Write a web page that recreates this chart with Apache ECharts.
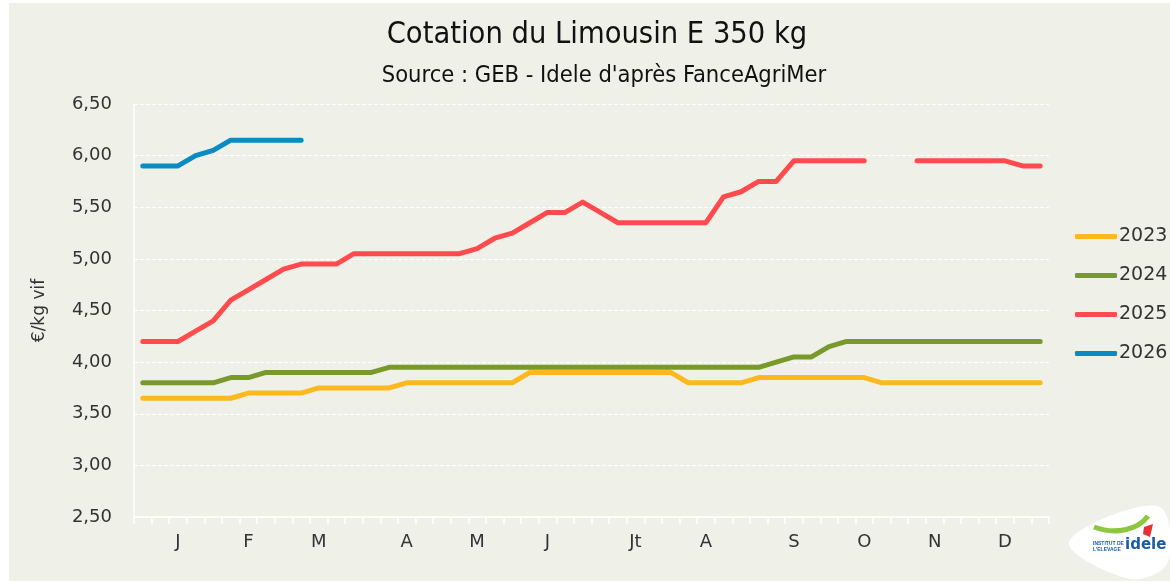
<!DOCTYPE html>
<html>
<head>
<meta charset="utf-8">
<script src="https://cdn.jsdelivr.net/npm/echarts@6/dist/echarts.min.js"></script>
<style>
    html, body { margin: 0; padding: 0; background: #ffffff; }
    #chart { width: 1170px; height: 583px; }
</style>
</head>
<body>
<div id="chart"></div>
<script>
// semaines de l'année, lettre du mois sur la semaine centrale
const weekLabels = [
    '', '', 'J', '', '', '', 'F', '', '', '', 'M', '', '', '',
    '', 'A', '', '', '', 'M', '', '', '', 'J', '', '', '', '',
    'Jt', '', '', '', 'A', '', '', '', '', 'S', '', '', '', 'O',
    '', '', '', 'N', '', '', '', 'D', '', ''
];

const years = ['2023', '2024', '2025', '2026'];

const y2023 = [
    3.65, 3.65, 3.65, 3.65, 3.65, 3.65, 3.70, 3.70, 3.70, 3.70,
    3.75, 3.75, 3.75, 3.75, 3.75, 3.80, 3.80, 3.80, 3.80, 3.80,
    3.80, 3.80, 3.90, 3.90, 3.90, 3.90, 3.90, 3.90, 3.90, 3.90,
    3.90, 3.80, 3.80, 3.80, 3.80, 3.85, 3.85, 3.85, 3.85, 3.85,
    3.85, 3.85, 3.80, 3.80, 3.80, 3.80, 3.80, 3.80, 3.80, 3.80,
    3.80, 3.80
];
const y2024 = [
    3.80, 3.80, 3.80, 3.80, 3.80, 3.85, 3.85, 3.90, 3.90, 3.90,
    3.90, 3.90, 3.90, 3.90, 3.95, 3.95, 3.95, 3.95, 3.95, 3.95,
    3.95, 3.95, 3.95, 3.95, 3.95, 3.95, 3.95, 3.95, 3.95, 3.95,
    3.95, 3.95, 3.95, 3.95, 3.95, 3.95, 4.00, 4.05, 4.05, 4.15,
    4.20, 4.20, 4.20, 4.20, 4.20, 4.20, 4.20, 4.20, 4.20, 4.20,
    4.20, 4.20
];
const y2025 = [
    4.20, 4.20, 4.20, 4.30, 4.40, 4.60, 4.70, 4.80, 4.90, 4.95,
    4.95, 4.95, 5.05, 5.05, 5.05, 5.05, 5.05, 5.05, 5.05, 5.10,
    5.20, 5.25, 5.35, 5.45, 5.45, 5.55, 5.45, 5.35, 5.35, 5.35,
    5.35, 5.35, 5.35, 5.60, 5.65, 5.75, 5.75, 5.95, 5.95, 5.95,
    5.95, 5.95, null, null, 5.95, 5.95, 5.95, 5.95, 5.95, 5.95,
    5.90, 5.90
];
const y2026 = [5.90, 5.90, 5.90, 6.00, 6.05, 6.15, 6.15, 6.15, 6.15, 6.15];

const colors = ['#FDB820', '#7A992B', '#FF4B4E', '#0A8BC3'];

const chart = echarts.init(document.getElementById('chart'));

function makeSeries(name, data, i) {
    return {
        name: name,
        type: 'line',
        data: data,
        showSymbol: false,
        symbol: 'none',
        connectNulls: false,
        lineStyle: { width: 5, color: colors[i], cap: 'round', join: 'round' },
        itemStyle: { color: colors[i] },
        emphasis: { disabled: true },
        z: 2 + i
    };
}

chart.setOption({
    backgroundColor: '#ffffff',
    animation: false,
    textStyle: { fontFamily: 'DejaVu Sans' },
    title: [{
        text: 'Cotation du Limousin E 350 kg',
        left: 592,
        textAlign: 'center',
        top: 15,
        textStyle: {
            fontFamily: 'Liberation Sans Narrow, DejaVu Sans Condensed, sans-serif',
            fontSize: 30.5, fontWeight: 'normal', color: '#111'
        }
    }, {
        text: "Source : GEB - Idele d'après FanceAgriMer",
        left: 599,
        textAlign: 'center',
        top: 59,
        textStyle: {
            fontFamily: 'Liberation Sans Narrow, DejaVu Sans Condensed, sans-serif',
            fontSize: 23.5, fontWeight: 'normal', color: '#111'
        }
    }],
    legend: {
        orient: 'vertical',
        left: 1070,
        top: 222,
        itemWidth: 42,
        itemHeight: 5,
        itemGap: 20,
        icon: 'roundRect',
        selectedMode: false,
        data: years,
        textStyle: { fontFamily: 'DejaVu Sans', fontSize: 19, color: '#333', padding: [0, 0, 0, -3] }
    },
    grid: {
        left: 134,
        right: 121,
        top: 104,
        bottom: 66,
        containLabel: false
    },
    xAxis: {
        type: 'category',
        data: weekLabels,
        boundaryGap: true,
        axisLine: { lineStyle: { color: '#ffffff', width: 1.5 } },
        axisTick: { show: true, interval: 0, length: 7, lineStyle: { color: '#ffffff', width: 1.5 } },
        axisLabel: { interval: 0, margin: 16, fontSize: 18, color: '#333', fontFamily: 'DejaVu Sans' },
        splitLine: { show: false }
    },
    yAxis: {
        type: 'value',
        min: 2.5,
        max: 6.5,
        interval: 0.5,
        name: '€/kg vif',
        nameLocation: 'middle',
        nameGap: 86,
        nameTextStyle: { fontSize: 17, color: '#333', fontFamily: 'DejaVu Sans' },
        axisLine: { show: true, lineStyle: { color: '#ffffff', width: 1.5 } },
        axisTick: { show: false },
        axisLabel: {
            margin: 22,
            fontSize: 18,
            color: '#333',
            fontFamily: 'DejaVu Sans',
            formatter: function (value) {
                return value.toFixed(2).replace('.', ',');
            }
        },
        splitLine: { lineStyle: { color: '#ffffff', type: 'dashed', width: 1 } }
    },
    graphic: [{
        type: 'rect',
        z: -10,
        silent: true,
        shape: { x: 9, y: 3, width: 1161, height: 578 },
        style: { fill: '#EFF0E8' }
    }, {
        // logo idele
        type: 'group',
        silent: true,
        children: [{
            type: 'polygon',
            shape: { points: [[1069, 542], [1158, 506], [1168, 562], [1130, 579]], smooth: 0.35 },
            style: { fill: '#ffffff' }
        }, {
            type: 'bezierCurve',
            shape: { x1: 1094, y1: 527, x2: 1148, y2: 516, cpx1: 1115, cpy1: 535, cpx2: 1138, cpy2: 530 },
            style: { stroke: '#8DC63F', lineWidth: 5, fill: null }
        }, {
            type: 'polygon',
            shape: { points: [[1144, 527], [1153, 524], [1150, 537], [1143, 534]] },
            style: { fill: '#E63036' }
        }, {
            type: 'text',
            style: { x: 1093, y: 541, text: 'INSTITUT DE\nL\'ELEVAGE', fontSize: 5, fontWeight: 'bold', fill: '#1D5BA6', lineHeight: 6 }
        }, {
            type: 'text',
            style: { x: 1125, y: 538, text: 'idele', fontSize: 15, fontWeight: 'bold', fill: '#1D5BA6', fontFamily: 'DejaVu Sans' }
        }]
    }],
    series: [
        makeSeries('2023', y2023, 0),
        makeSeries('2024', y2024, 1),
        makeSeries('2025', y2025, 2),
        makeSeries('2026', y2026, 3)
    ]
});
</script>
</body>
</html>
